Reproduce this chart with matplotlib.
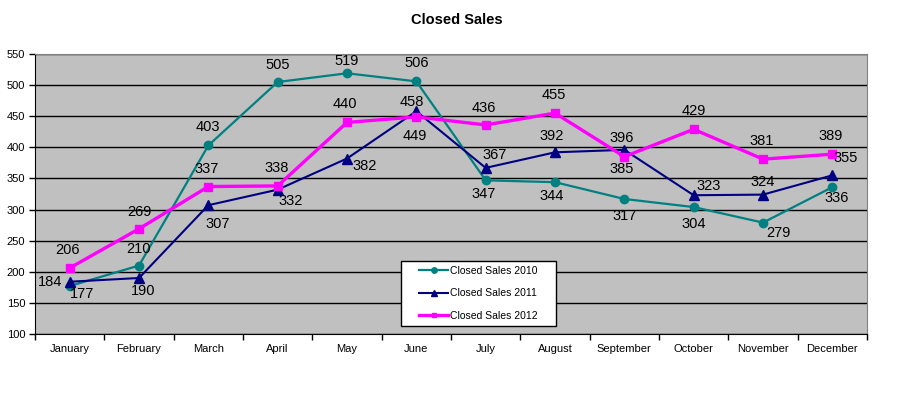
from matplotlib import pyplot as plt
from matplotlib.patches import Rectangle
import numpy as np

# data
months = ['January', 'February', 'March', 'April', 'May', 'June',
          'July', 'August', 'September', 'October', 'November', 'December']
sales_2010 = [177, 210, 403, 505, 519, 506, 347, 344, 317, 304, 279, 336]
sales_2011 = [184, 190, 307, 332, 382, 458, 367, 392, 396, 323, 324, 355]
sales_2012 = [206, 269, 337, 338, 440, 449, 436, 455, 385, 429, 381, 389]

# label offsets in pixels (dx, dy), where the value labels sit
off_2010 = [(12, -8), (0, 17), (0, 18), (0, 17), (0, 12), (0, 18),
            (-2, -14), (-3, -14), (0, -17), (0, -17), (15, -10), (4, -11)]
off_2011 = [(-20, 0), (4, -13), (9, -19), (13, -11), (18, -7), (-5, 9),
            (9, 13), (-3, 16), (-3, 12), (15, 9), (0, 13), (13, 17)]
off_2012 = [(-2, 18), (0, 17), (-2, 18), (-1, 18), (-2, 18), (-2, -19),
            (-2, 17), (-1, 18), (-3, -12), (0, 18), (-1, 18), (-2, 18)]

plt.rcParams['font.family'] = ['Liberation Sans', 'DejaVu Sans']

fig = plt.figure(figsize=(9, 3.97), dpi=100)
ax = fig.add_axes([35/900, 1 - 334/397, 832/900, 280/397])
ax.set_facecolor('#C0C0C0')

x = np.arange(len(months))
series = [
    (sales_2010, off_2010, '#008080', 'o', 6, 1.6, 'Closed Sales 2010'),
    (sales_2011, off_2011, '#000080', '^', 7, 1.5, 'Closed Sales 2011'),
    (sales_2012, off_2012, '#FF00FF', 's', 5.5, 2.4, 'Closed Sales 2012'),
]
for vals, offs, col, mk, ms, lw, lab in series:
    ax.plot(x, vals, color=col, marker=mk, markersize=ms, linewidth=lw,
            markeredgecolor=col, label=lab, zorder=3)
    for xi, v, (dx, dy) in zip(x, vals, offs):
        ax.annotate(str(v), (xi, v), xytext=(dx, dy), textcoords='offset pixels',
                    ha='center', va='center', fontsize=10.5, color='black', zorder=4)

ax.set_xlim(-0.5, 11.5)
ax.set_ylim(100, 550)
ax.set_yticks(np.arange(100, 551, 50))
ax.yaxis.grid(True, color='black', linewidth=1)
ax.set_axisbelow(True)

ax.set_xticks(x)
ax.set_xticklabels(months)
ax.set_xticks(np.arange(-0.5, 12, 1), minor=True)
ax.tick_params(axis='x', which='major', length=0, pad=7, labelsize=8)
ax.tick_params(axis='x', which='minor', length=4, width=1, direction='out')
ax.tick_params(axis='y', length=4, width=1, labelsize=8, pad=3)

for s in ['top', 'right']:
    ax.spines[s].set_color('#808080')
for s in ['left', 'bottom']:
    ax.spines[s].set_color('black')

fig.text(0.508, 1 - 20/397, 'Closed Sales', ha='center', va='center',
         fontsize=10.5, fontweight='bold')

# legend box drawn separately so the entries can sit centred inside it
box = Rectangle((401/900, 1 - 326/397), 155/900, 65/397, transform=fig.transFigure,
                facecolor='white', edgecolor='black', linewidth=1, zorder=5)
fig.patches.append(box)
handles, labels = ax.get_legend_handles_labels()
leg = fig.legend(handles, labels, loc='center',
                 bbox_to_anchor=(478.5/900, 1 - 293.5/397),
                 fontsize=7.5, handlelength=2.8, handletextpad=0.2, labelspacing=1.2,
                 markerscale=0.65, frameon=False, borderpad=0)
leg.set_zorder(6)

plt.savefig('out.png')
